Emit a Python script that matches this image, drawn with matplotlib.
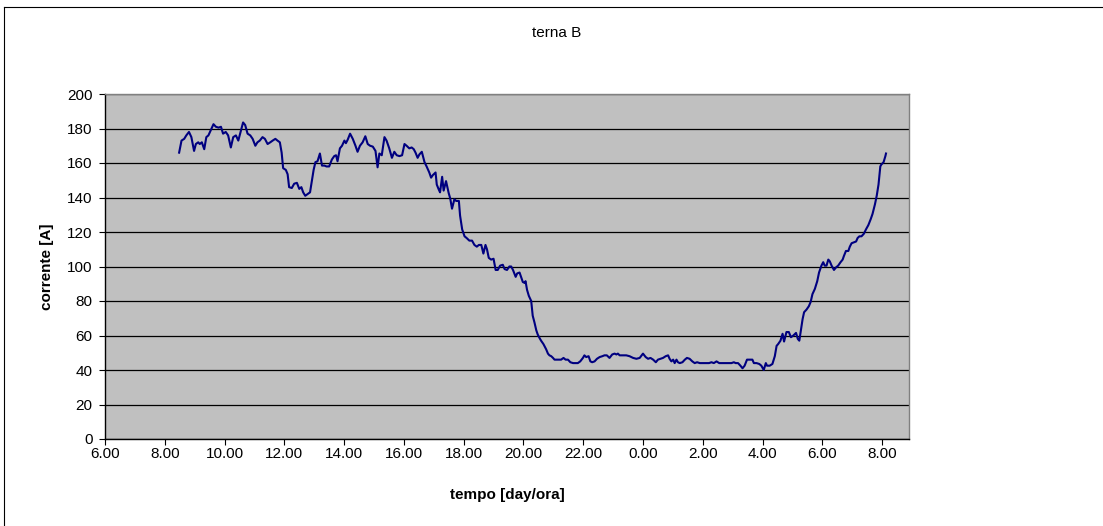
import numpy as np
import matplotlib.pyplot as plt
from matplotlib.lines import Line2D

plt.rcParams['font.family'] = ['Liberation Sans', 'DejaVu Sans']

# Current readings for "terna B": time in hours since midnight of day 1
# (values past 24 belong to the following morning) and current in ampere
ore = [
    8.48, 8.56, 8.65, 8.72, 8.81, 8.89, 8.98, 9.04, 9.12, 9.17, 9.24, 9.32,
    9.39, 9.46, 9.54, 9.63, 9.71, 9.80, 9.88, 9.95, 10.04, 10.12, 10.21,
    10.29, 10.38, 10.46, 10.55, 10.62, 10.69, 10.77, 10.86, 10.94, 11.03,
    11.10, 11.18, 11.27, 11.35, 11.44, 11.53, 11.61, 11.70, 11.77, 11.85,
    11.91, 11.96, 12.05, 12.11, 12.16, 12.25, 12.33, 12.42, 12.50, 12.57,
    12.63, 12.70, 12.78, 12.86, 12.92, 12.98, 13.04, 13.11, 13.19, 13.26,
    13.34, 13.41, 13.50, 13.59, 13.67, 13.73, 13.78, 13.86, 13.93, 14.01,
    14.06, 14.12, 14.20, 14.29, 14.38, 14.45, 14.53, 14.62, 14.71, 14.79,
    14.87, 14.96, 15.05, 15.12, 15.18, 15.26, 15.35, 15.42, 15.51, 15.60,
    15.68, 15.76, 15.85, 15.94, 16.02, 16.09, 16.18, 16.26, 16.33, 16.39,
    16.46, 16.52, 16.60, 16.69, 16.76, 16.85, 16.91, 16.97, 17.06, 17.10,
    17.17, 17.21, 17.28, 17.33, 17.41, 17.50, 17.55, 17.61, 17.69, 17.75,
    17.84, 17.88, 17.95, 18.03, 18.10, 18.19, 18.28, 18.36, 18.44, 18.51,
    18.59, 18.66, 18.73, 18.78, 18.84, 18.92, 19.00, 19.07, 19.14, 19.22,
    19.31, 19.37, 19.45, 19.53, 19.59, 19.65, 19.74, 19.79, 19.87, 19.93,
    19.98, 20.04, 20.07, 20.12, 20.18, 20.26, 20.31, 20.37, 20.43, 20.48,
    20.54, 20.59, 20.67, 20.76, 20.82, 20.87, 20.93, 20.99, 21.04, 21.10,
    21.19, 21.26, 21.34, 21.41, 21.49, 21.57, 21.66, 21.75, 21.82, 21.90,
    21.99, 22.04, 22.10, 22.18, 22.24, 22.30, 22.38, 22.46, 22.55, 22.64,
    22.71, 22.79, 22.88, 22.97, 23.05, 23.11, 23.16, 23.22, 23.33, 23.44,
    23.55, 23.67, 23.78, 23.89, 24.00, 24.09, 24.17, 24.25, 24.34, 24.43,
    24.50, 24.58, 24.67, 24.76, 24.84, 24.89, 24.95, 25.01, 25.06, 25.12,
    25.17, 25.23, 25.32, 25.40, 25.47, 25.56, 25.65, 25.73, 25.81, 25.90,
    26.01, 26.12, 26.21, 26.29, 26.37, 26.46, 26.55, 26.62, 26.73, 26.85,
    26.96, 27.04, 27.10, 27.18, 27.26, 27.33, 27.40, 27.48, 27.57, 27.66,
    27.71, 27.80, 27.89, 27.96, 28.04, 28.11, 28.15, 28.24, 28.33, 28.41,
    28.47, 28.52, 28.60, 28.67, 28.72, 28.80, 28.88, 28.95, 29.03, 29.12,
    29.18, 29.23, 29.27, 29.34, 29.39, 29.47, 29.55, 29.61, 29.67, 29.75,
    29.83, 29.89, 29.97, 30.03, 30.08, 30.14, 30.20, 30.25, 30.31, 30.39,
    30.46, 30.53, 30.61, 30.68, 30.72, 30.79, 30.87, 30.92, 30.98, 31.06,
    31.13, 31.18, 31.24, 31.31, 31.39, 31.46, 31.54, 31.62, 31.68, 31.76,
    31.82, 31.88, 31.94, 31.97, 32.05, 32.11, 32.13,
]
corrente = [
    166, 173, 174, 176, 178, 175, 167, 171, 172, 171, 172, 168,
    175, 176, 179, 182.5, 181, 180.5, 181, 177, 178, 176, 169,
    175, 176, 173, 179, 183.5, 182, 177, 176, 174, 170,
    172, 173, 175, 174, 171, 172, 173, 174, 173, 172,
    166, 157, 156, 153.5, 146, 145.5, 148, 148.5, 145, 146,
    143, 141, 142, 143, 149.5, 156, 160.5, 161, 165.5, 158.5,
    158.5, 158, 158, 162, 164, 164.5, 161, 168.5, 170, 173,
    171.5, 173.5, 177, 174, 170, 166.5, 170, 172, 175.5, 171,
    170, 169.5, 167, 157.5, 165.5, 164.5, 175, 173, 168.5, 163,
    166.5, 164.5, 164, 164.5, 171, 170, 168.5, 169, 168, 166,
    163, 165, 166.5, 160.5, 158, 154.5, 151.5, 153, 154.5, 147.5,
    144.5, 143, 152, 144, 149.5, 142.5, 139.5, 133.5, 139, 138,
    138, 129.5, 121.5, 117.5, 116.5, 115, 115, 112.5, 111.5, 112.5,
    112.5, 107.5, 112.5, 110, 105, 104, 104.5, 98, 98, 100.5,
    101, 98.5, 98, 100, 100, 98, 94, 96, 96.5, 93.5,
    91, 90.5, 91.5, 86.5, 83, 80, 71.5, 67.5, 63, 60.5,
    58.5, 57, 55, 52, 49.5, 48.5, 48, 47, 46, 46,
    46, 46, 47, 46, 46, 44.5, 44, 44, 44, 45,
    47, 48.5, 47.5, 48, 45, 44.5, 45, 46.5, 47.5, 48,
    48.5, 48.5, 47, 49, 49.5, 49, 49.5, 48.5, 48.5, 48.5,
    48, 47, 46.5, 47, 49.5, 47.5, 46.5, 47, 46, 44.5,
    46, 46.5, 47, 48, 48.5, 46.5, 45, 46, 44, 46,
    44.5, 44, 44.5, 46, 47, 46.5, 45, 44, 44.5, 44,
    44, 44, 44, 44.5, 44, 45, 44, 44, 44, 44,
    44, 44.5, 44, 44, 42.5, 41, 42.5, 46, 46, 46,
    44, 44, 43.5, 42.5, 40, 44, 42.5, 42.5, 43.5, 48,
    54, 55, 57, 61, 56.5, 62, 62, 59, 60, 61.5,
    58, 57, 61.5, 69.5, 73.5, 75, 77, 79.5, 84, 87,
    91.5, 96.5, 100.5, 102.5, 100.5, 100.5, 104, 103, 100.5, 98,
    99.5, 100.5, 102.5, 104, 106, 109, 109, 111.5, 113.5, 114,
    114.5, 116.5, 117.5, 117.5, 119, 121.5, 124, 127.5, 130.5, 136,
    141, 147.5, 158, 159, 160.5, 164, 165.5,
]

tick_ore = list(range(6, 33, 2))
tick_labels = ['%d.00' % (h % 24) for h in tick_ore]
y_ticks = list(range(0, 201, 20))

fig = plt.figure(figsize=(11.03, 5.26), dpi=100)
fig.patch.set_facecolor('white')

# outer chart frame: top and left edges only
x0, ytop = 3.5 / 1103, 1 - 7 / 526
fig.lines.append(Line2D([x0, 1.0], [ytop, ytop], transform=fig.transFigure,
                        color='black', linewidth=0.8))
fig.lines.append(Line2D([x0, x0], [0.0, ytop], transform=fig.transFigure,
                        color='black', linewidth=0.8))

ax = fig.add_axes([105 / 1103, 1 - 439 / 526, 804 / 1103, 345 / 526])
ax.set_facecolor('#C0C0C0')
ax.plot(ore, corrente, color='#000080', linewidth=1.5, zorder=3)

ax.set_xlim(6, 32.9)
ax.set_ylim(0, 200)
ax.set_xticks(tick_ore)
ax.set_xticklabels(tick_labels)
ax.set_yticks(y_ticks)
ax.grid(axis='y', color='black', linewidth=0.9)
ax.set_axisbelow(True)

for side in ('top', 'right'):
    ax.spines[side].set_color('#808080')
    ax.spines[side].set_linewidth(1.0)
for side in ('left', 'bottom'):
    ax.spines[side].set_color('black')
    ax.spines[side].set_linewidth(1.0)

ax.tick_params(direction='out', length=4, width=0.8, labelsize=11,
               colors='black')
ax.tick_params(axis='x', pad=2)
ax.tick_params(axis='y', pad=5)

ax.set_xlabel('tempo [day/ora]', fontsize=11, fontweight='bold', labelpad=19)
ax.set_ylabel('corrente [A]', fontsize=11, fontweight='bold', labelpad=9)
fig.text(557 / 1103, 1 - 33 / 526, 'terna B', ha='center', va='center',
         fontsize=11)

fig.savefig('out.png', dpi=100)
